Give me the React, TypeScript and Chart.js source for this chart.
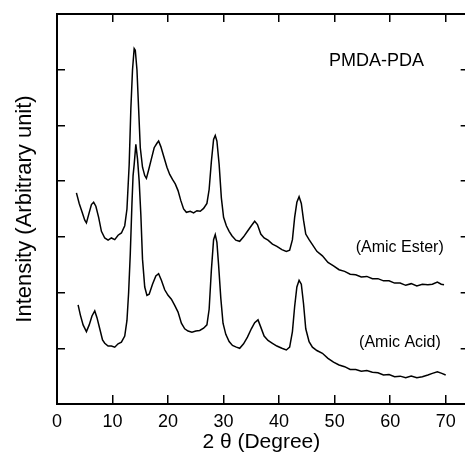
import React, { useEffect, useRef } from "react";
import { Chart, registerables } from "chart.js";

Chart.register(...registerables);

const esterX = [3.5,4.0,4.5,5.0,5.3,5.7,6.2,6.6,7.0,7.5,8.0,8.6,9.2,9.8,10.4,11.0,11.6,12.2,12.6,13.0,13.3,13.6,13.9,14.1,14.4,14.7,15.0,15.4,15.8,16.1,16.5,17.0,17.5,18.0,18.3,18.7,19.2,19.8,20.3,20.8,21.3,21.8,22.3,22.8,23.3,24.0,24.6,25.2,25.8,26.4,27.0,27.4,27.8,28.2,28.5,28.8,29.2,29.6,30.0,30.5,31.0,31.5,32.2,32.9,33.6,34.3,35.0,35.6,36.1,36.7,37.3,38.0,38.8,39.6,40.5,41.3,41.9,42.4,42.8,43.2,43.6,44.0,44.4,44.8,45.4,46.0,46.8,47.8,48.8,49.8,50.8,51.8,52.8,53.8,54.8,55.8,56.8,57.8,58.8,59.8,60.8,61.8,62.8,63.8,64.8,65.8,66.8,67.6,68.5,69.2,69.7];
const esterY = [3.79,3.6,3.45,3.3,3.25,3.4,3.58,3.62,3.55,3.35,3.1,2.98,2.94,2.98,2.95,3.03,3.07,3.2,3.5,4.3,5.3,6.0,6.38,6.35,6.0,5.3,4.6,4.25,4.1,4.05,4.2,4.4,4.6,4.68,4.72,4.62,4.45,4.25,4.12,4.03,3.95,3.83,3.65,3.5,3.44,3.46,3.43,3.47,3.46,3.51,3.6,3.85,4.35,4.75,4.82,4.72,4.3,3.7,3.35,3.2,3.1,3.02,2.94,2.92,3.0,3.1,3.2,3.28,3.22,3.05,2.98,2.94,2.87,2.83,2.77,2.74,2.76,2.95,3.35,3.62,3.72,3.6,3.3,3.05,2.95,2.86,2.74,2.66,2.54,2.48,2.41,2.38,2.33,2.32,2.28,2.29,2.25,2.25,2.21,2.21,2.17,2.17,2.13,2.16,2.12,2.15,2.14,2.15,2.19,2.15,2.14];

const acidX = [3.8,4.2,4.7,5.3,5.8,6.3,6.8,7.2,7.7,8.2,8.6,9.2,9.8,10.4,11.0,11.6,12.2,12.6,12.9,13.2,13.5,13.7,13.9,14.2,14.5,14.8,15.1,15.4,15.8,16.2,16.6,17.2,17.8,18.3,18.8,19.4,20.0,20.6,21.2,21.8,22.4,23.0,23.6,24.3,25.0,25.7,26.4,27.0,27.4,27.8,28.2,28.5,28.8,29.1,29.5,29.9,30.4,31.0,31.6,32.3,32.9,33.6,34.3,35.0,35.6,36.2,36.7,37.3,38.0,38.8,39.6,40.5,41.3,41.9,42.4,42.8,43.2,43.6,44.0,44.4,44.8,45.4,46.0,46.8,47.8,48.8,49.8,50.8,51.8,52.8,53.8,54.8,55.8,56.8,57.8,58.8,59.8,60.8,61.8,62.8,63.8,64.8,65.8,66.8,67.6,68.5,69.3,70.0];
const acidY = [1.78,1.6,1.42,1.3,1.42,1.58,1.67,1.55,1.35,1.15,1.09,1.04,1.04,1.02,1.08,1.11,1.22,1.5,2.0,2.7,3.6,4.1,4.3,4.66,4.4,4.0,3.4,2.6,2.1,1.95,1.97,2.15,2.3,2.34,2.22,2.05,1.95,1.88,1.77,1.65,1.45,1.35,1.31,1.29,1.31,1.32,1.36,1.42,1.7,2.4,2.95,3.04,2.9,2.5,1.9,1.45,1.25,1.12,1.05,1.02,1.0,1.08,1.2,1.35,1.46,1.51,1.38,1.22,1.14,1.09,1.04,1.0,0.97,1.02,1.3,1.75,2.1,2.22,2.15,1.8,1.35,1.12,1.02,0.96,0.91,0.82,0.75,0.7,0.67,0.62,0.62,0.59,0.6,0.57,0.56,0.52,0.53,0.49,0.5,0.47,0.5,0.47,0.49,0.52,0.55,0.58,0.55,0.52];

const xTickValues = [0, 10, 20, 30, 40, 50, 60, 70];
const labelTexts = ["PMDA-PDA", "(Amic Ester)", "(Amic Acid)"];
const labelX = [49, 53.8, 54.4];
const labelY = [6.15, 2.8, 1.1];

const FONT = "'Liberation Sans', Arial, sans-serif";

const textPlugin = {
  id: "textLabels",
  afterDatasetsDraw(chart: any) {
    const { ctx, scales } = chart;
    ctx.save();
    ctx.fillStyle = "#000";
    ctx.textAlign = "left";
    ctx.textBaseline = "middle";
    labelTexts.forEach((t, i) => {
      ctx.font = `${i === 0 ? 18 : 16}px ${FONT}`;
      ctx.fillText(t, scales.x.getPixelForValue(labelX[i]), scales.y.getPixelForValue(labelY[i]));
    });
    ctx.restore();
  },
};

export default function App() {
  const ref = useRef<HTMLCanvasElement>(null);
  useEffect(() => {
    if (!ref.current) return;
    const mk = (xs: number[], ys: number[]) => xs.map((x, i) => ({ x, y: ys[i] }));
    const gridCommon = (tl: number) => ({
      drawOnChartArea: false,
      drawTicks: true,
      tickLength: tl,
      color: "#000",
      lineWidth: 1.5,
    });
    const border = { display: true, color: "#000", width: 2 };
    const chart = new Chart(ref.current, {
      type: "line",
      data: {
        datasets: [
          { label: "Amic Ester", data: mk(esterX, esterY), borderColor: "#000", borderWidth: 1.5, pointRadius: 0, tension: 0 },
          { label: "Amic Acid", data: mk(acidX, acidY), borderColor: "#000", borderWidth: 1.5, pointRadius: 0, tension: 0 },
        ],
      },
      options: {
        animation: false,
        responsive: false,
        layout: { padding: 0 },
        plugins: { legend: { display: false }, tooltip: { enabled: false } },
        scales: {
          x: {
            type: "linear",
            position: "bottom",
            min: 0,
            max: 73.6,
            afterFit: (s: any) => { s.height = 58; },
            afterBuildTicks: (s: any) => { s.ticks = xTickValues.map((v) => ({ value: v })); },
            ticks: { stepSize: 10, includeBounds: false, color: "#000", font: { family: FONT, size: 18 }, padding: 16, maxRotation: 0 },
            grid: gridCommon(-9),
            border,
            title: { display: true, text: "2 θ (Degree)", color: "#000", font: { family: FONT, size: 21 }, padding: { top: 7, bottom: 7 } },
          },
          x2: {
            type: "linear",
            position: "top",
            min: 0,
            max: 73.6,
            afterFit: (s: any) => { s.height = 14; },
            afterBuildTicks: (s: any) => { s.ticks = xTickValues.map((v) => ({ value: v })); },
            ticks: { display: false },
            grid: gridCommon(-8),
            border,
          },
          y: {
            type: "linear",
            position: "left",
            min: 0,
            max: 7,
            afterFit: (s: any) => { s.width = 57; },
            ticks: { display: false, stepSize: 1 },
            grid: gridCommon(-8),
            border,
            title: { display: true, text: "Intensity (Arbitrary unit)", color: "#000", font: { family: FONT, size: 22 }, padding: { top: 12, bottom: 12 } },
          },
          y2: {
            type: "linear",
            position: "right",
            min: 0,
            max: 7,
            afterFit: (s: any) => { s.width = 5; },
            ticks: { display: false, stepSize: 1 },
            grid: gridCommon(-5),
            border,
          },
        },
      } as any,
      plugins: [textPlugin],
    });
    return () => chart.destroy();
  }, []);
  return (
    <div style={{ position: "absolute", left: 0, top: 0, width: 465, height: 462, overflow: "hidden", background: "#fff" }}>
      <canvas ref={ref} width={472} height={462} style={{ width: 472, height: 462, display: "block" }} />
    </div>
  );
}
